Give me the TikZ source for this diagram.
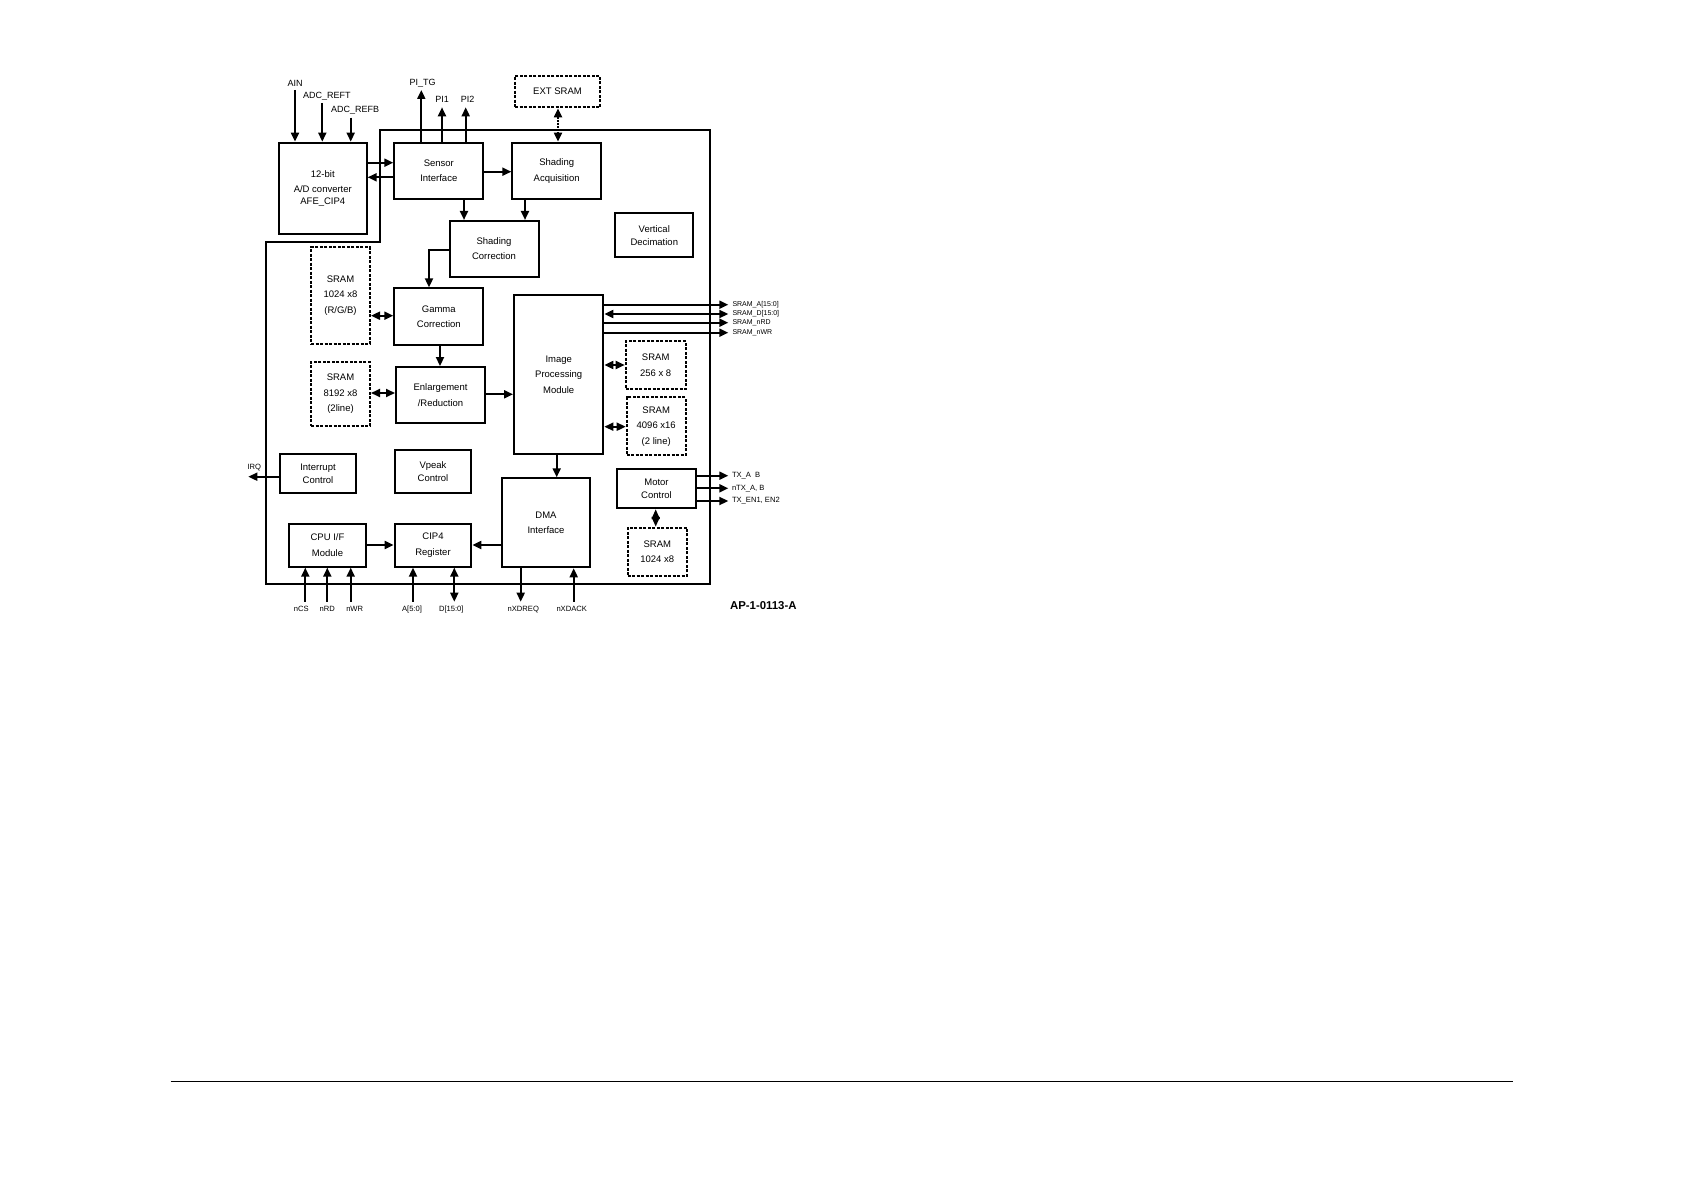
\documentclass[tikz,border=0pt]{standalone}
\usepackage{fontspec}
\setmainfont{Liberation Sans}
\usetikzlibrary{arrows.meta,positioning}

\begin{document}
\begin{tikzpicture}[x=1pt,y=-1pt,
    box/.style={draw,line width=2pt,inner sep=0pt,align=center,font=\fontsize{9.5}{15.5}\selectfont},
    tight/.style={font=\fontsize{9.5}{12.7}\selectfont},
    dbox/.style={box,dash pattern=on 3pt off 1.5pt},
    sig/.style={inner sep=0pt,font=\fontsize{9}{10}\selectfont},
    lbl/.style={inner sep=0pt,font=\fontsize{7.6}{9}\selectfont},
    tinylbl/.style={inner sep=0pt,font=\fontsize{7}{8}\selectfont},
    arr/.style={-{Triangle[length=9pt,width=8pt]},line width=1.9pt},
    darr/.style={{Triangle[length=9pt,width=8pt]}-{Triangle[length=9pt,width=8pt]},line width=1.9pt}]
    \fill[white] (0,0) rectangle (1684,1190);
    \useasboundingbox (0,0) rectangle (1684,1190);

    \draw[line width=2pt,line join=miter] (380,130) -- (710,130) -- (710,584) -- (265.7,584) -- (265.7,242.3) -- (380,242.3) -- cycle;
    \draw[line width=1.5pt] (170.7,1081.3) -- (1512.7,1081.3);

    \node[box,minimum width=87.7,minimum height=91.3] (adc) at (322.8,188.3) {12-bit\\A/D converter\\[-3.5pt]AFE\_CIP4};
    \node[box,minimum width=89,minimum height=56.3] (sensor) at (438.8,170.8) {Sensor\\Interface};
    \node[box,minimum width=88.7,minimum height=56.3] (shacq) at (556.7,170.8) {Shading\\Acquisition};
    \node[box,minimum width=89,minimum height=55.7] (shcorr) at (494,248.8) {Shading\\Correction};
    \node[box,tight,minimum width=78,minimum height=44] (vdec) at (654.3,235.3) {Vertical\\Decimation};
    \node[box,minimum width=89,minimum height=56.7] (gamma) at (438.8,316.7) {Gamma\\Correction};
    \node[box,minimum width=89,minimum height=56.3] (enlarge) at (440.5,395.2) {Enlargement\\/Reduction};
    \node[box,minimum width=89.3,minimum height=159.3] (ipm) at (558.7,374.7) {Image\\Processing\\Module};
    \node[box,tight,minimum width=76,minimum height=39] (irqctl) at (318,473.8) {Interrupt\\Control};
    \node[box,tight,minimum width=76.7,minimum height=43.3] (vpeak) at (433,471.7) {Vpeak\\Control};
    \node[box,minimum width=88.7,minimum height=89] (dma) at (546,522.8) {DMA\\Interface};
    \node[box,tight,minimum width=78.3,minimum height=39] (motor) at (656.5,488.8) {Motor\\Control};
    \node[box,minimum width=76.3,minimum height=42.7] (cpuif) at (327.5,545.3) {CPU I/F\\Module};
    \node[box,minimum width=76.7,minimum height=42.7] (cipreg) at (433,545.3) {CIP4\\Register};

    \node[dbox,minimum width=85,minimum height=31.3] (extsram) at (557.5,91.7) {EXT SRAM};
    \node[dbox,minimum width=59,minimum height=96.3] (sramgam) at (340.5,295.5) {SRAM\\1024 x8\\(R/G/B)};
    \node[dbox,minimum width=59,minimum height=63.4] (sramenl) at (340.5,394) {SRAM\\8192 x8\\(2line)};
    \node[dbox,minimum width=60,minimum height=48] (sramA) at (655.7,365) {SRAM\\256 x 8};
    \node[dbox,minimum width=59,minimum height=57.7] (sramB) at (656.2,426.2) {SRAM\\4096 x16\\(2 line)};
    \node[dbox,minimum width=59.3,minimum height=48.3] (srammot) at (657.3,551.8) {SRAM\\1024 x8};

    \coordinate (ainE) at (295,90);
    \coordinate (reftE) at (322.3,103);
    \coordinate (refbE) at (350.7,117.7);
    \coordinate (pitgE) at (421.3,90);
    \coordinate (pioneE) at (442,107.3);
    \coordinate (pitwoE) at (465.7,107.3);
    \node[sig,above=3pt of ainE] (ain) {AIN};
    \node[sig,above=3pt of reftE,xshift=4.5] (reft) {ADC\_REFT};
    \node[sig,above=3pt of refbE,xshift=4.5] (refb) {ADC\_REFB};
    \node[sig,above=3pt of pitgE,xshift=1.4] (pitg) {PI\_TG};
    \node[sig,above=5pt of pioneE] (pione) {PI1};
    \node[sig,above=5pt of pitwoE,xshift=2] (pitwo) {PI2};
    \draw[arr] (ainE) -- (adc.north -| ainE);
    \draw[arr] (reftE) -- (adc.north -| reftE);
    \draw[arr] (refbE) -- (adc.north -| refbE);
    \draw[arr] (sensor.north -| pitgE) -- (pitgE);
    \draw[arr] (sensor.north -| pioneE) -- (pioneE);
    \draw[arr] (sensor.north -| pitwoE) -- (pitwoE);

    \draw[arr] (adc.east |- 0,162.7) -- (sensor.west |- 0,162.7);
    \draw[arr] (sensor.west |- 0,177.3) -- (adc.east |- 0,177.3);
    \draw[arr] (sensor.east |- 0,171.7) -- (shacq.west |- 0,171.7);
    \draw[darr,dash pattern=on 2pt off 1pt] (extsram.south -| 558,0) -- (shacq.north -| 558,0);
    \draw[arr] (sensor.south -| 464,0) -- (shcorr.north -| 464,0);
    \draw[arr] (shacq.south -| 525,0) -- (shcorr.north -| 525,0);
    \draw[arr] (shcorr.west |- 0,250) -| (gamma.north -| 429,0);
    \draw[darr] (sramgam.east |- 0,315.7) -- (gamma.west |- 0,315.7);
    \draw[arr] (gamma.south -| 440,0) -- (enlarge.north -| 440,0);
    \draw[darr] (sramenl.east |- 0,393) -- (enlarge.west |- 0,393);
    \draw[arr] (enlarge.east |- 0,394.3) -- (ipm.west |- 0,394.3);
    \draw[darr] (ipm.east |- 0,365) -- (sramA.west |- 0,365);
    \draw[darr] (ipm.east |- 0,426.7) -- (sramB.west |- 0,426.7);
    \draw[arr] (ipm.south -| 556.7,0) -- (dma.north -| 556.7,0);
    \draw[arr] (dma.west |- 0,545) -- (cipreg.east |- 0,545);
    \draw[arr] (cpuif.east |- 0,545) -- (cipreg.west |- 0,545);
    \draw[{Triangle[length=9.7pt,width=8pt]}-{Triangle[length=9.7pt,width=8pt]},line width=1.9pt] (motor.south -| 655.7,0) -- (srammot.north -| 655.7,0);

    \coordinate (saE) at (728.3,304.7);
    \coordinate (sdE) at (728.3,314);
    \coordinate (srdE) at (728.3,322.7);
    \coordinate (swrE) at (728.3,332.7);
    \node[tinylbl,right=4pt of saE] (sa) {SRAM\_A[15:0]};
    \node[tinylbl,right=4pt of sdE] (sd) {SRAM\_D[15:0]};
    \node[tinylbl,right=4pt of srdE] (srd) {SRAM\_nRD};
    \node[tinylbl,right=4pt of swrE] (swr) {SRAM\_nWR};
    \draw[arr] (ipm.east |- saE) -- (saE);
    \draw[darr] (ipm.east |- sdE) -- (sdE);
    \draw[arr] (ipm.east |- srdE) -- (srdE);
    \draw[arr] (ipm.east |- swrE) -- (swrE);

    \coordinate (txaE) at (728.3,475.7);
    \coordinate (ntxaE) at (728.3,488.3);
    \coordinate (txenE) at (728.3,501);
    \node[lbl,right=3.5pt of txaE] (txa) {TX\_A\ \ B};
    \node[lbl,right=3.5pt of ntxaE] (ntxa) {nTX\_A, B};
    \node[lbl,right=3.5pt of txenE] (txen) {TX\_EN1, EN2};
    \draw[arr] (motor.east |- txaE) -- (txaE);
    \draw[arr] (motor.east |- ntxaE) -- (ntxaE);
    \draw[arr] (motor.east |- txenE) -- (txenE);

    \coordinate (irqE) at (248.3,476.7);
    \node[lbl,above right=6pt and -1pt of irqE] (irq) {IRQ};
    \draw[arr] (irqctl.west |- irqE) -- (irqE);

    \coordinate (ncsE) at (305.3,601.7);
    \coordinate (nrdE) at (327.3,601.7);
    \coordinate (nwrE) at (350.7,601.7);
    \coordinate (addrE) at (413,601.7);
    \coordinate (dataE) at (454.3,601.7);
    \coordinate (xdreqE) at (520.7,601.7);
    \coordinate (xdackE) at (573.7,601.7);
    \node[lbl,below=4pt of ncsE,xshift=-4] (ncs) {nCS};
    \node[lbl,below=4pt of nrdE] (nrd) {nRD};
    \node[lbl,below=4pt of nwrE,xshift=4] (nwr) {nWR};
    \node[lbl,below=4pt of addrE,xshift=-1] (addr) {A[5:0]};
    \node[lbl,below=4pt of dataE,xshift=-3] (data) {D[15:0]};
    \node[lbl,below=4pt of xdreqE,xshift=2.6] (xdreq) {nXDREQ};
    \node[lbl,below=4pt of xdackE,xshift=-2] (xdack) {nXDACK};
    \draw[arr] (ncsE) -- (cpuif.south -| ncsE);
    \draw[arr] (nrdE) -- (cpuif.south -| nrdE);
    \draw[arr] (nwrE) -- (cpuif.south -| nwrE);
    \draw[arr] (addrE) -- (cipreg.south -| addrE);
    \draw[darr] (dataE) -- (cipreg.south -| dataE);
    \draw[arr] (dma.south -| xdreqE) -- (xdreqE);
    \draw[arr] (xdackE) -- (dma.south -| xdackE);

    \node[inner sep=0pt,font=\fontsize{11.4}{13}\selectfont\bfseries] (figid) at (763.3,605.7) {AP-1-0113-A};
  \end{tikzpicture}
\end{document}
